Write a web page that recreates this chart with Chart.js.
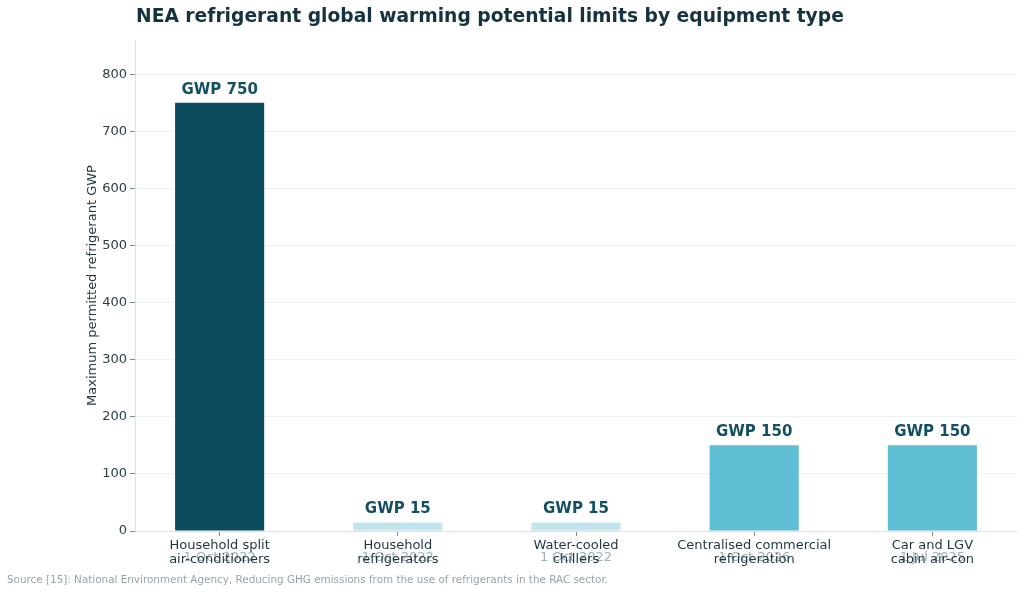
<!DOCTYPE html>
<html>
<head>
<meta charset="utf-8">
<script src="https://cdn.jsdelivr.net/npm/chart.js@4"></script>
<style>
  html, body { margin: 0; padding: 0; background: #ffffff; }
  #wrap { width: 1024px; height: 592px; position: relative; }
</style>
</head>
<body>
<div id="wrap"><canvas id="gwp-chart" width="1024" height="592"></canvas></div>
<script>
// data
const categories = [
  ["Household split", "air-conditioners"],
  ["Household", "refrigerators"],
  ["Water-cooled", "chillers"],
  ["Centralised commercial", "refrigeration"],
  ["Car and LGV", "cabin air-con"]
];
const effectiveDates = ["1 Oct 2022", "1 Oct 2022", "1 Oct 2022", "1 Oct 2026", "1 Jul 2025"];
const gwpLimits = [750, 15, 15, 150, 150];
const barColours = ["#0c4c5f", "#c2e4ec", "#c2e4ec", "#5fbdd4", "#5fbdd4"];
const yTicks = [0, 100, 200, 300, 400, 500, 600, 700, 800];

const FONT = "'DejaVu Sans', sans-serif";

const extras = {
  id: 'extras',
  beforeDraw(chart) {
    const ctx = chart.ctx;
    const x = chart.scales.x;
    ctx.save();
    // grey dates sit behind the second label line
    ctx.font = "13px " + FONT;
    ctx.fillStyle = "#9fb0b7";
    ctx.textAlign = "center";
    ctx.textBaseline = "middle";
    effectiveDates.forEach((d, i) => {
      ctx.fillText(d, x.getPixelForValue(i), 558);
    });
    // title
    ctx.font = "bold 18.7px " + FONT;
    ctx.fillStyle = "#15333f";
    ctx.textAlign = "left";
    ctx.textBaseline = "alphabetic";
    ctx.fillText("NEA refrigerant global warming potential limits by equipment type", 136, 22);
    // source
    ctx.font = "10.4px " + FONT;
    ctx.fillStyle = "#95a5ae";
    ctx.fillText("Source [15]: National Environment Agency, Reducing GHG emissions from the use of refrigerants in the RAC sector.", 7, 583);
    ctx.restore();
  },
  afterDatasetsDraw(chart) {
    const ctx = chart.ctx;
    const meta = chart.getDatasetMeta(0);
    ctx.save();
    ctx.font = "bold 15px " + FONT;
    ctx.fillStyle = "#124f63";
    ctx.textAlign = "center";
    ctx.textBaseline = "alphabetic";
    meta.data.forEach((bar, i) => {
      ctx.fillText("GWP " + gwpLimits[i], bar.x, bar.y - 9);
    });
    ctx.restore();
  }
};

new Chart(document.getElementById("gwp-chart"), {
  type: 'bar',
  data: {
    datasets: [
      {
        label: "GWP limit",
        backgroundColor: barColours,
        data: gwpLimits.map((v, i) => ({ x: i, y: v })),
        barPercentage: 0.5,
        categoryPercentage: 1.0
      }
    ]
  },
  options: {
    responsive: false,
    animation: false,
    layout: { padding: { left: 80, right: 7, top: 40, bottom: 21 } },
    plugins: {
      legend: { display: false },
      title: { display: false },
      tooltip: { enabled: false }
    },
    scales: {
      x: {
        type: 'linear',
        min: -0.475,
        max: 4.475,
        offset: false,
        afterFit(scale) { scale.height = 40; },
        afterBuildTicks(scale) { scale.ticks = categories.map((c, i) => ({ value: i })); },
        grid: { display: true, offset: false, drawOnChartArea: false, tickLength: 5, tickColor: "#7c8a90" },
        border: { color: "#dbe3e6" },
        ticks: {
          color: "#1f3540",
          font: { family: FONT, size: 13, lineHeight: 1.1 },
          padding: 2,
          maxRotation: 0,
          autoSkip: false,
          callback: (v) => categories[v]
        }
      },
      y: {
        min: 0,
        max: 860,
        afterFit(scale) { scale.width = 55; },
        afterBuildTicks(scale) { scale.ticks = yTicks.map(v => ({ value: v })); },
        grid: { color: "#edf2f4", tickLength: 5, tickColor: "#7c8a90" },
        border: { color: "#dbe3e6" },
        ticks: { color: "#2b3d45", font: { family: FONT, size: 13 }, padding: 3 },
        title: {
          display: true,
          text: "Maximum permitted refrigerant GWP",
          color: "#1f3540",
          font: { family: FONT, size: 13 },
          padding: { top: 5, bottom: 0 }
        }
      }
    }
  },
  plugins: [extras]
});
</script>
</body>
</html>
